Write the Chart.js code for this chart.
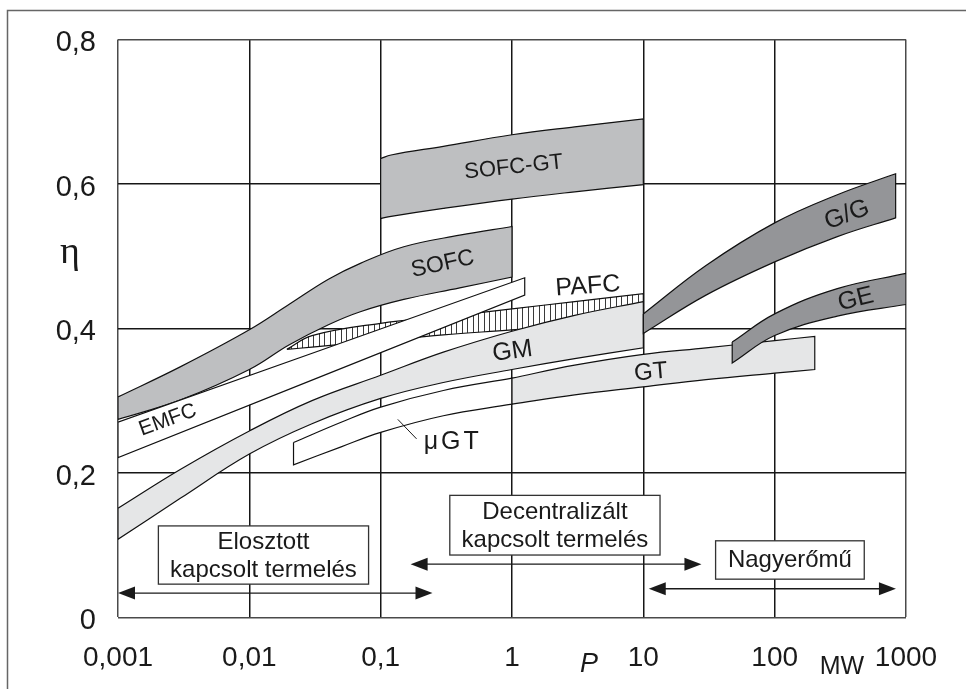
<!DOCTYPE html>
<html>
<head>
<meta charset="utf-8">
<script src="https://cdn.jsdelivr.net/npm/chart.js@4.4.1/dist/chart.umd.min.js"></script>
<style>
  html, body { margin: 0; padding: 0; background: #fff; }
  canvas { display: block; }
</style>
</head>
<body>
<canvas id="chart" width="966" height="689"></canvas>
<script>
// ---- axis ticks ----
const X_TICK_VALUES = [0.001, 0.01, 0.1, 1, 10, 100, 1000];
const X_TICK_LABELS = ['0,001', '0,01', '0,1', '1', '10', '100', '1000'];
const Y_TICK_VALUES = [0, 0.2, 0.4, 0.6, 0.8];
const Y_TICK_LABELS = ['0', '0,2', '0,4', '0,6', '0,8'];

// ---- efficiency ranges: power P [MW], upper and lower efficiency η ----
const SOFC_GT_P    = [0.1, 0.12, 0.3, 1, 3, 10];
const SOFC_GT_HIGH = [0.635, 0.640, 0.652, 0.668, 0.679, 0.690];
const SOFC_GT_LOW  = [0.552, 0.555, 0.566, 0.579, 0.589, 0.599];

const SOFC_P    = [0.001, 0.003, 0.01, 0.02, 0.04, 0.07, 0.15, 0.4, 1];
const SOFC_HIGH = [0.305, 0.347, 0.398, 0.433, 0.468, 0.490, 0.513, 0.529, 0.541];
const SOFC_LOW  = [0.274, 0.301, 0.343, 0.377, 0.405, 0.423, 0.440, 0.456, 0.471];

const PAFC_P    = [0.0193, 0.03, 0.1, 0.3, 1, 3, 10];
const PAFC_HIGH = [0.371, 0.390, 0.407, 0.416, 0.427, 0.437, 0.448];
const PAFC_LOW  = [0.371, 0.374, 0.383, 0.391, 0.398, 0.405, 0.415];

const EMFC_P    = [0.001, 1.25];
const EMFC_HIGH = [0.270, 0.470];
const EMFC_LOW  = [0.221, 0.446];

const GM_P    = [0.001, 0.003, 0.01, 0.03, 0.1, 0.3, 1, 3, 10];
const GM_HIGH = [0.151, 0.205, 0.258, 0.300, 0.335, 0.367, 0.396, 0.418, 0.437];
const GM_LOW  = [0.108, 0.165, 0.226, 0.268, 0.303, 0.325, 0.343, 0.358, 0.373];

const MGT_P    = [0.0217, 0.05, 0.1, 0.3, 1];
const MGT_HIGH = [0.242, 0.270, 0.291, 0.314, 0.331];
const MGT_LOW  = [0.211, 0.236, 0.256, 0.279, 0.295];

const GT_P    = [1, 3, 10, 30, 100, 202];
const GT_HIGH = [0.331, 0.349, 0.364, 0.373, 0.383, 0.389];
const GT_LOW  = [0.295, 0.308, 0.319, 0.329, 0.338, 0.343];

const GG_P    = [10, 30, 100, 300, 834];
const GG_HIGH = [0.420, 0.487, 0.546, 0.585, 0.614];
const GG_LOW  = [0.393, 0.446, 0.492, 0.527, 0.553];

const GE_P    = [47.5, 100, 300, 1000];
const GE_HIGH = [0.381, 0.420, 0.455, 0.476];
const GE_LOW  = [0.352, 0.390, 0.417, 0.433];

// ---- texts placed on the plot ----
const BAND_LABELS = [
  { text: 'SOFC-GT', x: 1.03,    y: 0.623, angle: -6,  size: 22, spacing: 0 },
  { text: 'SOFC',    x: 0.297,   y: 0.489, angle: -12, size: 23, spacing: 0 },
  { text: 'PAFC',    x: 3.78,    y: 0.458, angle: -4,  size: 25, spacing: 0 },
  { text: 'EMFC',    x: 0.00239, y: 0.273, angle: -20, size: 21, spacing: 0 },
  { text: 'GM',      x: 1.01,    y: 0.368, angle: -8,  size: 25, spacing: 0 },
  { text: 'GT',      x: 11.4,    y: 0.339, angle: -5,  size: 24, spacing: 0 },
  { text: 'G/G',     x: 355,     y: 0.557, angle: -21, size: 25, spacing: 0 },
  { text: 'GE',      x: 415,     y: 0.440, angle: -14, size: 25, spacing: 0 },
  { text: '\u03bcGT', x: 0.354,  y: 0.243, angle: 0,   size: 25, spacing: 3 }
];
const MGT_LEADER = { x0: 0.135, y0: 0.274, x1: 0.1876, y1: 0.247 };

const REGION_BOXES = [
  { lines: ['Elosztott', 'kapcsolt termelés'],      x0: 0.00203, x1: 0.0809, yTop: 0.1265, yBottom: 0.0459 },
  { lines: ['Decentralizált', 'kapcsolt termelés'], x0: 0.336,   x1: 13.4,   yTop: 0.1688, yBottom: 0.0862 },
  { lines: ['Nagyerőmű'],                           x0: 35.5,    x1: 481,    yTop: 0.1059, yBottom: 0.0528 }
];
const REGION_ARROWS = [
  { x0: 0.001, x1: 0.248, y: 0.0336 },
  { x0: 0.169, x1: 27.7,  y: 0.0735 },
  { x0: 11.0,  x1: 838,   y: 0.0395 }
];

const FONT = '"Liberation Sans", Arial, Helvetica, sans-serif';

// closed outline of a band: upper edge left->right, lower edge right->left
// (corner points are doubled so the ends stay square under bezier tension)
function bandOutline(ps, high, low) {
  const pts = [];
  const n = ps.length;
  for (let i = 0; i < n; i++) pts.push({ x: ps[i], y: high[i] });
  pts.push({ x: ps[n - 1], y: high[n - 1] });
  pts.push({ x: ps[n - 1], y: low[n - 1] });
  for (let i = n - 1; i >= 0; i--) pts.push({ x: ps[i], y: low[i] });
  pts.push({ x: ps[0], y: low[0] });
  pts.push({ x: ps[0], y: high[0] });
  return pts;
}

// vertical hatching for the PAFC range
function hatchPattern() {
  const c = document.createElement('canvas');
  c.width = 11; c.height = 4;
  const g = c.getContext('2d');
  g.fillStyle = '#ffffff';
  g.fillRect(0, 0, 11, 4);
  g.fillStyle = '#3a3a3a';
  g.fillRect(0, 0, 1, 4);
  g.fillRect(5, 0, 1, 4);
  return g.createPattern(c, 'repeat');
}

const GREY_MID = '#bebfc1';
const GREY_DARK = '#949598';
const GREY_LIGHT = '#e5e6e7';

// order: higher number = further back
function band(label, ps, high, low, fill, order) {
  return {
    label,
    data: bandOutline(ps, high, low),
    borderColor: '#111111',
    borderWidth: 1.2,
    backgroundColor: fill,
    fill: 'shape',
    tension: 0.4,
    pointRadius: 0,
    order
  };
}

const datasets = [
  band('SOFC-GT', SOFC_GT_P, SOFC_GT_HIGH, SOFC_GT_LOW, GREY_MID, 9),
  band('PAFC', PAFC_P, PAFC_HIGH, PAFC_LOW, hatchPattern(), 8),
  band('SOFC', SOFC_P, SOFC_HIGH, SOFC_LOW, GREY_MID, 7),
  band('EMFC', EMFC_P, EMFC_HIGH, EMFC_LOW, '#ffffff', 6),
  band('GM', GM_P, GM_HIGH, GM_LOW, GREY_LIGHT, 5),
  band('µGT', MGT_P, MGT_HIGH, MGT_LOW, '#ffffff', 4),
  band('GT', GT_P, GT_HIGH, GT_LOW, GREY_LIGHT, 3),
  band('G/G', GG_P, GG_HIGH, GG_LOW, GREY_DARK, 2),
  band('GE', GE_P, GE_HIGH, GE_LOW, GREY_DARK, 1)
];

// white page with the figure frame
const framePlugin = {
  id: 'frame',
  beforeDraw(chart) {
    const ctx = chart.ctx;
    ctx.save();
    ctx.fillStyle = '#ffffff';
    ctx.fillRect(0, 0, chart.width, chart.height);
    ctx.strokeStyle = '#666666';
    ctx.lineWidth = 1.5;
    ctx.beginPath();
    ctx.moveTo(7.5, chart.height);
    ctx.lineTo(7.5, 10.5);
    ctx.lineTo(chart.width, 10.5);
    ctx.stroke();
    ctx.restore();
  }
};

function arrowHead(ctx, x, y, dir) {
  const len = 17, half = 6.5;
  ctx.beginPath();
  ctx.moveTo(x, y);
  ctx.lineTo(x - dir * len, y - half);
  ctx.lineTo(x - dir * len, y + half);
  ctx.closePath();
  ctx.fill();
}

// labels, the operating-range boxes and arrows, axis symbols
const notesPlugin = {
  id: 'notes',
  afterDatasetsDraw(chart) {
    const ctx = chart.ctx;
    const sx = chart.scales.x, sy = chart.scales.y;
    const X = v => sx.getPixelForValue(v);
    const Y = v => sy.getPixelForValue(v);
    ctx.save();

    // band names
    ctx.fillStyle = '#1a1a1a';
    ctx.textAlign = 'center';
    ctx.textBaseline = 'middle';
    BAND_LABELS.forEach(l => {
      ctx.save();
      ctx.translate(X(l.x), Y(l.y));
      ctx.rotate(l.angle * Math.PI / 180);
      ctx.font = l.size + 'px ' + FONT;
      if ('letterSpacing' in ctx) ctx.letterSpacing = l.spacing + 'px';
      ctx.fillText(l.text, 0, 0);
      ctx.restore();
    });

    // µGT leader
    ctx.strokeStyle = '#1a1a1a';
    ctx.lineWidth = 1;
    ctx.beginPath();
    ctx.moveTo(X(MGT_LEADER.x0), Y(MGT_LEADER.y0));
    ctx.lineTo(X(MGT_LEADER.x1), Y(MGT_LEADER.y1));
    ctx.stroke();

    // arrows
    ctx.strokeStyle = '#1a1a1a';
    ctx.fillStyle = '#1a1a1a';
    ctx.lineWidth = 1.3;
    REGION_ARROWS.forEach(a => {
      const x0 = X(a.x0), x1 = X(a.x1), y = Y(a.y);
      ctx.beginPath();
      ctx.moveTo(x0 + 10, y);
      ctx.lineTo(x1 - 10, y);
      ctx.stroke();
      arrowHead(ctx, x0, y, -1);
      arrowHead(ctx, x1, y, 1);
    });

    // boxes
    REGION_BOXES.forEach(b => {
      const x0 = X(b.x0), x1 = X(b.x1), y0 = Y(b.yTop), y1 = Y(b.yBottom);
      ctx.fillStyle = '#ffffff';
      ctx.fillRect(x0, y0, x1 - x0, y1 - y0);
      ctx.strokeStyle = '#333333';
      ctx.lineWidth = 1.3;
      ctx.strokeRect(x0, y0, x1 - x0, y1 - y0);
      ctx.fillStyle = '#1a1a1a';
      ctx.font = '24px ' + FONT;
      ctx.textAlign = 'center';
      ctx.textBaseline = 'middle';
      const cx = (x0 + x1) / 2, cy = (y0 + y1) / 2;
      if (b.lines.length === 1) {
        ctx.fillText(b.lines[0], cx, cy);
      } else {
        ctx.fillText(b.lines[0], cx, cy - 13);
        ctx.fillText(b.lines[1], cx, cy + 15);
      }
    });
    ctx.restore();
  },
  afterDraw(chart) {
    const ctx = chart.ctx;
    ctx.save();
    ctx.fillStyle = '#1a1a1a';
    ctx.textAlign = 'center';
    ctx.textBaseline = 'middle';
    ctx.font = '38px "Liberation Serif", "DejaVu Serif", serif';
    ctx.fillText('\u03b7', 70, 253);
    ctx.font = 'italic 27px ' + FONT;
    ctx.fillText('P', 589, 664);
    ctx.font = '25px ' + FONT;
    ctx.fillText('MW', 842, 667);
    ctx.restore();
  }
};

new Chart(document.getElementById('chart'), {
  type: 'line',
  data: { datasets },
  plugins: [framePlugin, notesPlugin],
  options: {
    responsive: false,
    animation: false,
    events: [],
    layout: { padding: { top: 36, right: 60, left: 0, bottom: 0 } },
    plugins: {
      legend: { display: false },
      tooltip: { enabled: false }
    },
    scales: {
      x: {
        type: 'logarithmic',
        min: 0.001,
        max: 1000,
        afterBuildTicks(scale) { scale.ticks = X_TICK_VALUES.map(v => ({ value: v })); },
        afterFit(scale) { scale.height = 71.7; },
        ticks: {
          autoSkip: false,
          maxRotation: 0,
          padding: 24,
          color: '#1a1a1a',
          font: { family: FONT, size: 28 },
          callback: (v, i) => X_TICK_LABELS[i]
        },
        grid: {
          drawTicks: false,
          lineWidth: 1.5,
          color: ctx => (ctx.index === 0 || ctx.index === X_TICK_VALUES.length - 1) ? '#4a4a4a' : '#161616'
        },
        border: { display: false }
      },
      y: {
        min: 0,
        max: 0.8,
        afterBuildTicks(scale) { scale.ticks = Y_TICK_VALUES.map(v => ({ value: v })); },
        afterFit(scale) { scale.width = 118; },
        ticks: {
          padding: 22,
          labelOffset: 4,
          color: '#1a1a1a',
          font: { family: FONT, size: 29 },
          callback: (v, i) => Y_TICK_LABELS[i]
        },
        grid: {
          drawTicks: false,
          lineWidth: 1.5,
          color: ctx => (ctx.index === 0 || ctx.index === Y_TICK_VALUES.length - 1) ? '#4a4a4a' : '#161616'
        },
        border: { display: false }
      }
    }
  }
});
</script>
</body>
</html>
